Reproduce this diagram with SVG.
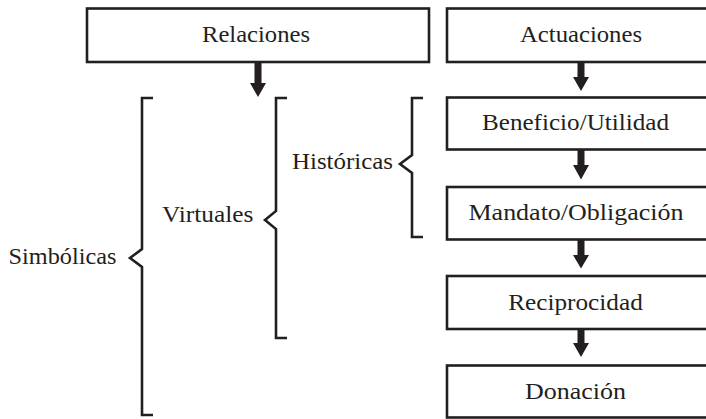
<svg xmlns="http://www.w3.org/2000/svg" width="706" height="419" viewBox="0 0 706 419">
<style>
.box{fill:#fff;stroke:#231f20;stroke-width:2.6}
.br{fill:none;stroke:#231f20;stroke-width:2.6;stroke-linejoin:miter}
.arr{fill:#231f20;stroke:none}
text{font-family:"Liberation Serif","Times New Roman",serif;font-size:23.5px;fill:#231f20}
.c{text-anchor:middle}
</style>
<rect width="706" height="419" fill="#fff"/>
<g id="relaciones"><rect class="box" x="87" y="8.5" width="342" height="53.5"/><text class="c" x="256" y="41.5" textLength="108" lengthAdjust="spacingAndGlyphs">Relaciones</text></g>
<g id="actuaciones"><rect class="box" x="447" y="8.5" width="270" height="53.5"/><text class="c" x="581" y="41.5" textLength="122" lengthAdjust="spacingAndGlyphs">Actuaciones</text></g>
<g id="beneficio"><rect class="box" x="447" y="97.5" width="270" height="52"/><text class="c" x="575.5" y="130" textLength="187" lengthAdjust="spacingAndGlyphs">Beneficio/Utilidad</text></g>
<g id="mandato"><rect class="box" x="447" y="187" width="270" height="52.5"/><text class="c" x="576" y="220" textLength="215" lengthAdjust="spacingAndGlyphs">Mandato/Obligación</text></g>
<g id="reciprocidad"><rect class="box" x="447" y="276" width="270" height="53"/><text class="c" x="575.5" y="309.5" textLength="134.5" lengthAdjust="spacingAndGlyphs">Reciprocidad</text></g>
<g id="donacion"><rect class="box" x="447" y="365.5" width="270" height="52"/><text class="c" x="575.5" y="398.5" textLength="101" lengthAdjust="spacingAndGlyphs">Donación</text></g>
<g id="historicas"><polyline class="br" points="423,98 412,98 412,155 400,164 412,173 412,237 423,237"/><text x="292" y="168.5" textLength="101" lengthAdjust="spacingAndGlyphs">Históricas</text></g>
<g id="virtuales"><polyline class="br" points="287,98 276,98 276,211 265,220 276,229 276,338 287,338"/><text x="162" y="221.7" textLength="91.5" lengthAdjust="spacingAndGlyphs">Virtuales</text></g>
<g id="simbolicas"><polyline class="br" points="153,98 142,98 142,249 130,258 142,267 142,415 153,415"/><text x="8.5" y="263.5" textLength="108" lengthAdjust="spacingAndGlyphs">Simbólicas</text></g>
<g id="connectors">
<polygon class="arr" points="254.5,62 261.5,62 261.5,83 266,83 258,97 250,83 254.5,83"/>
<polygon class="arr" points="577.5,62 584.5,62 584.5,77 589,77 581,91 573,77 577.5,77"/>
<polygon class="arr" points="577.5,149.5 584.5,149.5 584.5,165 589,165 581,179.5 573,165 577.5,165"/>
<polygon class="arr" points="577.5,239.5 584.5,239.5 584.5,255 589,255 581,268.5 573,255 577.5,255"/>
<polygon class="arr" points="577.5,329 584.5,329 584.5,343 589,343 581,357 573,343 577.5,343"/>
</g>
</svg>
